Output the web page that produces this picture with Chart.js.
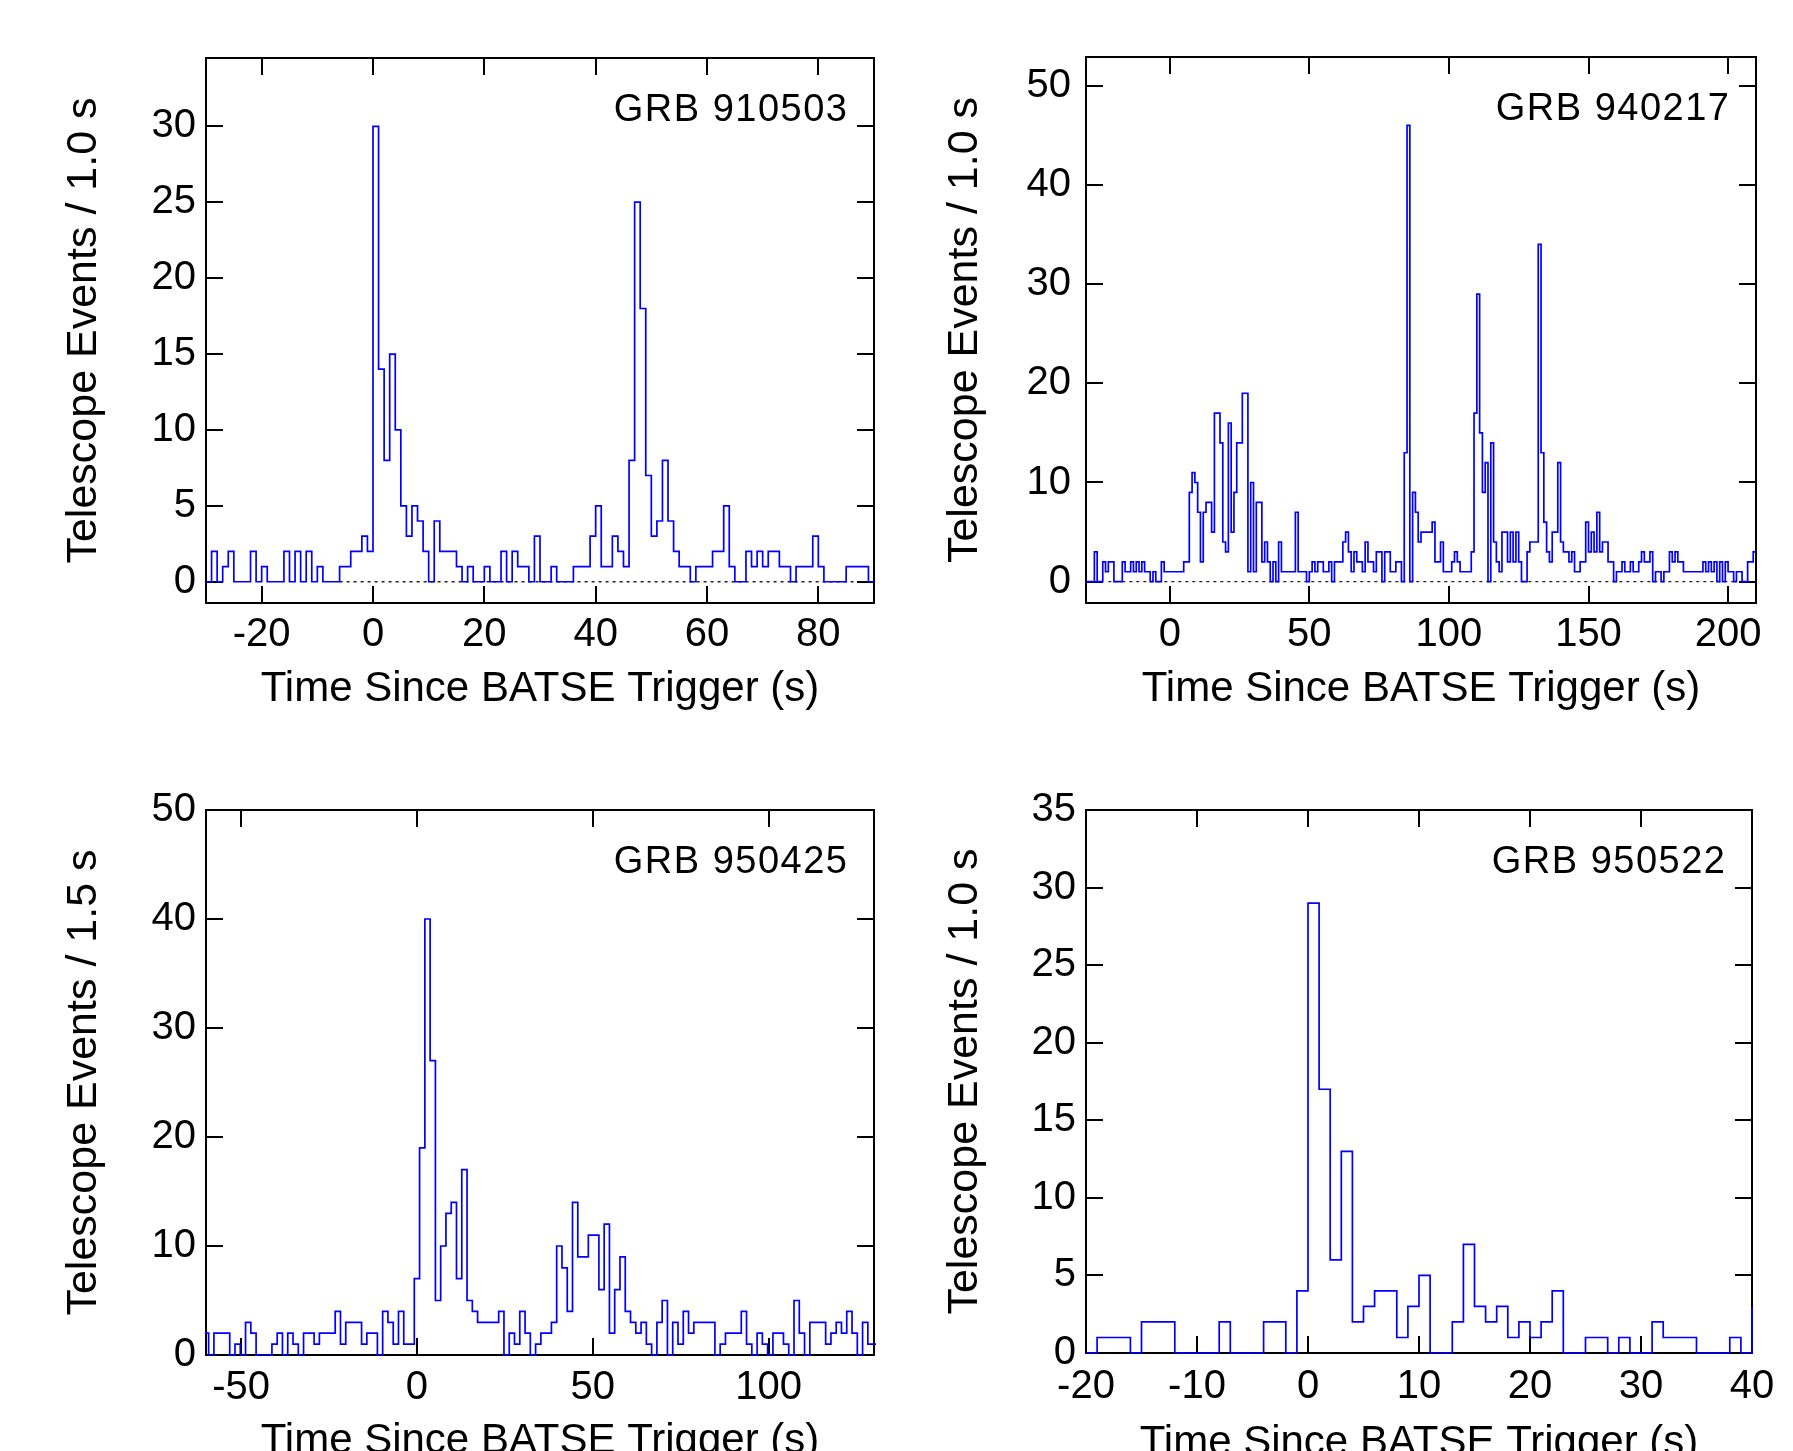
<!DOCTYPE html>
<html>
<head>
<meta charset="utf-8">
<title>BATSE telescope events</title>
<script src="https://cdn.jsdelivr.net/npm/chart.js@4.4.1/dist/chart.umd.min.js"></script>
<style>
  html, body { margin: 0; padding: 0; background: #fff; overflow: hidden; }
  #page { position: relative; width: 1793px; height: 1451px; overflow: hidden; background: #fff; }
  #page canvas { position: absolute; }
</style>
</head>
<body>
<div id="page">
  <canvas id="c910503"></canvas>
  <canvas id="c940217"></canvas>
  <canvas id="c950425"></canvas>
  <canvas id="c950522"></canvas>
</div>
<script>
// counts per bin; each list starts at the given time
const xTitle = 'Time Since BATSE Trigger (s)';

// GRB 910503, 1.0 s bins from -30 s
const counts910503 = [
  0, 2, 0, 1, 2, 0, 0, 0, 2, 0,
  1, 0, 0, 0, 2, 0, 2, 0, 2, 0,
  1, 0, 0, 0, 1, 1, 2, 2, 3, 2,
  30, 14, 8, 15, 10, 5, 3, 5, 4, 2,
  0, 4, 2, 2, 2, 1, 0, 1, 0, 0,
  1, 0, 0, 2, 0, 2, 1, 1, 0, 3,
  0, 0, 1, 0, 0, 0, 1, 1, 1, 3,
  5, 1, 1, 3, 2, 1, 8, 25, 18, 7,
  3, 4, 8, 4, 2, 1, 1, 0, 1, 1,
  1, 2, 2, 5, 1, 0, 0, 2, 1, 2,
  1, 2, 2, 1, 1, 0, 1, 1, 1, 3,
  1, 0, 0, 0, 0, 1, 1, 1, 1, 0
];
const start910503 = -30;
const bin910503 = 1.0;
const zeroLine910503 = [-6, 87];
const xTicks910503 = [-20, 0, 20, 40, 60, 80];
const yTicks910503 = [0, 5, 10, 15, 20, 25, 30];

// GRB 940217, 1.0 s bins from -30 s
const counts940217 = [
  0, 0, 0, 3, 0, 0, 2, 1, 2, 2,
  0, 0, 0, 2, 1, 1, 2, 1, 2, 1,
  2, 1, 1, 0, 1, 0, 0, 2, 1, 1,
  1, 1, 1, 1, 1, 2, 2, 9, 11, 10,
  7, 2, 7, 8, 8, 5, 17, 17, 14, 4,
  3, 16, 5, 9, 14, 14, 19, 19, 1, 10,
  1, 8, 8, 2, 4, 2, 0, 2, 0, 4,
  1, 1, 1, 1, 1, 7, 1, 1, 1, 0,
  1, 2, 1, 2, 2, 1, 1, 2, 0, 2,
  2, 2, 4, 5, 3, 1, 3, 2, 2, 1,
  4, 2, 2, 1, 3, 3, 0, 3, 3, 1,
  1, 2, 2, 0, 13, 46, 0, 9, 7, 4,
  5, 5, 5, 5, 6, 2, 2, 4, 1, 1,
  1, 2, 3, 2, 1, 1, 1, 1, 3, 17,
  29, 15, 9, 12, 0, 14, 4, 2, 1, 5,
  5, 2, 5, 2, 5, 2, 0, 0, 3, 4,
  4, 4, 34, 13, 6, 3, 2, 5, 5, 12,
  4, 3, 3, 2, 3, 1, 1, 2, 2, 6,
  3, 5, 3, 7, 3, 4, 4, 2, 2, 0,
  1, 1, 2, 1, 1, 2, 1, 1, 2, 3,
  2, 2, 3, 0, 1, 1, 0, 1, 1, 3,
  2, 3, 2, 2, 1, 1, 1, 1, 1, 1,
  1, 2, 1, 2, 1, 2, 0, 2, 0, 2,
  1, 1, 0, 1, 1, 0, 0, 2, 2, 3
];
const start940217 = -30;
const bin940217 = 1.0;
const zeroLine940217 = [-22, 203];
const xTicks940217 = [0, 50, 100, 150, 200];
const yTicks940217 = [0, 10, 20, 30, 40, 50];

// GRB 950425, 1.5 s bins from -60.75 s
const counts950425 = [
  2, 0, 2, 2, 2, 0, 1, 0, 3, 2,
  0, 0, 0, 1, 2, 0, 2, 1, 0, 2,
  2, 1, 2, 2, 2, 4, 1, 3, 3, 3,
  1, 2, 2, 0, 4, 3, 1, 4, 1, 1,
  7, 19, 40, 27, 5, 10, 13, 14, 7, 17,
  5, 4, 3, 3, 3, 3, 4, 0, 2, 1,
  4, 2, 0, 1, 2, 2, 3, 10, 8, 4,
  14, 9, 9, 11, 11, 6, 12, 2, 6, 9,
  4, 3, 2, 3, 1, 0, 3, 5, 0, 3,
  1, 4, 2, 3, 3, 3, 3, 0, 1, 2,
  2, 2, 4, 1, 0, 2, 1, 0, 2, 2,
  1, 0, 5, 2, 0, 3, 3, 3, 1, 2,
  3, 2, 4, 2, 0, 3, 1, 1
];
const start950425 = -60.75;
const bin950425 = 1.5;
const xTicks950425 = [-50, 0, 50, 100];
const yTicks950425 = [0, 10, 20, 30, 40, 50];

// GRB 950522, 1.0 s bins from -20 s
const counts950522 = [
  0, 1, 1, 1, 0, 2, 2, 2, 0, 0,
  0, 0, 2, 0, 0, 0, 2, 2, 0, 4,
  29, 17, 6, 13, 2, 3, 4, 4, 1, 3,
  5, 0, 0, 2, 7, 3, 2, 3, 1, 2,
  1, 2, 4, 0, 0, 1, 1, 0, 1, 0,
  0, 2, 1, 1, 1, 0, 0, 0, 1, 0,
  3
];
const start950522 = -20;
const bin950522 = 1.0;
const xTicks950522 = [-20, -10, 0, 10, 20, 30, 40];
const yTicks950522 = [0, 5, 10, 15, 20, 25, 30, 35];

const FONT = '"Liberation Sans", Arial, Helvetica, sans-serif';

// histogram outline: one point per bin left edge, plus the closing edge
function steps(start, width, counts) {
  const pts = counts.map((c, i) => ({ x: start + i * width, y: c }));
  pts.push({ x: start + counts.length * width, y: counts[counts.length - 1] });
  return pts;
}

// frame + inward ticks on all four sides (under the data), burst name on top
const framePlugin = {
  id: 'frame',
  beforeDatasetsDraw(chart) {
    const { ctx, chartArea: a, scales: { x, y } } = chart;
    const tl = 17;
    ctx.save();
    ctx.strokeStyle = '#000';
    ctx.lineWidth = 2;
    ctx.beginPath();
    x.ticks.forEach(t => {
      const px = Math.round(x.getPixelForValue(t.value));
      ctx.moveTo(px, a.bottom); ctx.lineTo(px, a.bottom - tl);
      ctx.moveTo(px, a.top); ctx.lineTo(px, a.top + tl);
    });
    y.ticks.forEach(t => {
      const py = Math.round(y.getPixelForValue(t.value));
      ctx.moveTo(a.left, py); ctx.lineTo(a.left + tl, py);
      ctx.moveTo(a.right, py); ctx.lineTo(a.right - tl, py);
    });
    ctx.stroke();
    ctx.strokeRect(a.left, a.top, a.right - a.left, a.bottom - a.top);
    ctx.restore();
  },
  afterDraw(chart, args, opts) {
    const { ctx, chartArea: a } = chart;
    ctx.save();
    ctx.fillStyle = '#000';
    ctx.font = '38px ' + FONT;
    ctx.textAlign = 'right';
    ctx.textBaseline = 'middle';
    let shift = 0;
    if ('letterSpacing' in ctx) { ctx.letterSpacing = '1.5px'; shift = 1.5; }
    ctx.fillText(opts.label, a.right - 27 + shift, a.top + 53);
    ctx.restore();
  }
};

function panel(p) {
  const canvas = document.getElementById(p.id);
  canvas.width = p.w; canvas.height = p.h;
  canvas.style.left = p.left + 'px';
  canvas.style.top = p.top + 'px';
  canvas.style.width = p.w + 'px';
  canvas.style.height = p.h + 'px';

  const datasets = [{
    data: steps(p.start, p.bin, p.counts),
    stepped: true,
    borderColor: '#0000ff',
    borderWidth: 1.7,
    pointRadius: 0,
    fill: false,
    clip: { left: 1, top: 1, right: 2, bottom: 1 },
    order: 0,
  }];
  if (p.zeroLine) {
    datasets.push({
      data: [{ x: p.zeroLine[0], y: 0 }, { x: p.zeroLine[1], y: 0 }],
      borderColor: '#222',
      borderWidth: 1.3,
      borderDash: [3, 4],
      pointRadius: 0,
      fill: false,
      order: 1,
    });
  }

  return new Chart(canvas, {
    type: 'line',
    data: { datasets },
    options: {
      responsive: false,
      animation: false,
      events: [],
      layout: { padding: { left: 0, right: p.w - p.area.right, top: p.area.top, bottom: 0 } },
      plugins: {
        legend: { display: false },
        tooltip: { enabled: false },
        frame: { label: p.label },
      },
      scales: {
        x: {
          type: 'linear',
          min: p.xRange[0],
          max: p.xRange[1],
          afterBuildTicks: s => { s.ticks = p.xTicks.map(v => ({ value: v })); },
          afterFit: s => { s.height = p.h - p.area.bottom; },
          grid: { display: false, drawTicks: false },
          border: { display: false },
          ticks: {
            font: { family: FONT, size: 40 },
            color: '#000',
            padding: p.xLabelPad,
            maxRotation: 0,
            autoSkip: false,
            callback: v => String(v),
          },
          title: {
            display: true,
            text: xTitle,
            color: '#000',
            font: { family: FONT, size: 42 },
            padding: { top: 0, bottom: p.xTitlePad },
          },
        },
        y: {
          type: 'linear',
          min: p.yRange[0],
          max: p.yRange[1],
          afterBuildTicks: s => { s.ticks = p.yTicks.map(v => ({ value: v })); },
          afterFit: s => { s.width = p.area.left; },
          grid: { display: false, drawTicks: false },
          border: { display: false },
          ticks: {
            font: { family: FONT, size: 40 },
            color: '#000',
            padding: p.yLabelPad,
            callback: v => String(v),
          },
          title: {
            display: true,
            text: p.yTitle,
            color: '#000',
            font: { family: FONT, size: 43 },
            padding: { top: p.yTitlePad, bottom: 0 },
          },
        },
      },
    },
    plugins: [framePlugin],
  });
}

panel({
  id: 'c910503', left: 0, top: 0, w: 896, h: 725,
  area: { left: 206, right: 874, top: 58, bottom: 603 },
  label: 'GRB 910503', yTitle: 'Telescope Events / 1.0 s',
  counts: counts910503, start: start910503, bin: bin910503, zeroLine: zeroLine910503,
  xTicks: xTicks910503, yTicks: yTicks910503,
  xRange: [-30, 90], yRange: [-1.4, 34.5],
  yLabelPad: 10, yTitlePad: 58, xLabelPad: 8, xTitlePad: 10,
});

panel({
  id: 'c940217', left: 896, top: 0, w: 897, h: 725,
  area: { left: 190, right: 860, top: 57, bottom: 603 },
  label: 'GRB 940217', yTitle: 'Telescope Events / 1.0 s',
  counts: counts940217, start: start940217, bin: bin940217, zeroLine: zeroLine940217,
  xTicks: xTicks940217, yTicks: yTicks940217,
  xRange: [-30, 210], yRange: [-2.15, 52.9],
  yLabelPad: 15, yTitlePad: 43, xLabelPad: 8, xTitlePad: 10,
});

panel({
  id: 'c950425', left: 0, top: 725, w: 896, h: 760,
  area: { left: 206, right: 874, top: 85, bottom: 630 },
  label: 'GRB 950425', yTitle: 'Telescope Events / 1.5 s',
  counts: counts950425, start: start950425, bin: bin950425, zeroLine: null,
  xTicks: xTicks950425, yTicks: yTicks950425,
  xRange: [-60, 130], yRange: [0, 50],
  yLabelPad: 10, yTitlePad: 58, xLabelPad: 9, xTitlePad: 18,
});

panel({
  id: 'c950522', left: 896, top: 725, w: 897, h: 760,
  area: { left: 190, right: 856, top: 85, bottom: 628 },
  label: 'GRB 950522', yTitle: 'Telescope Events / 1.0 s',
  counts: counts950522, start: start950522, bin: bin950522, zeroLine: null,
  xTicks: xTicks950522, yTicks: yTicks950522,
  xRange: [-20, 40], yRange: [0, 35],
  yLabelPad: 10, yTitlePad: 43, xLabelPad: 10, xTitlePad: 16,
});
</script>
</body>
</html>
